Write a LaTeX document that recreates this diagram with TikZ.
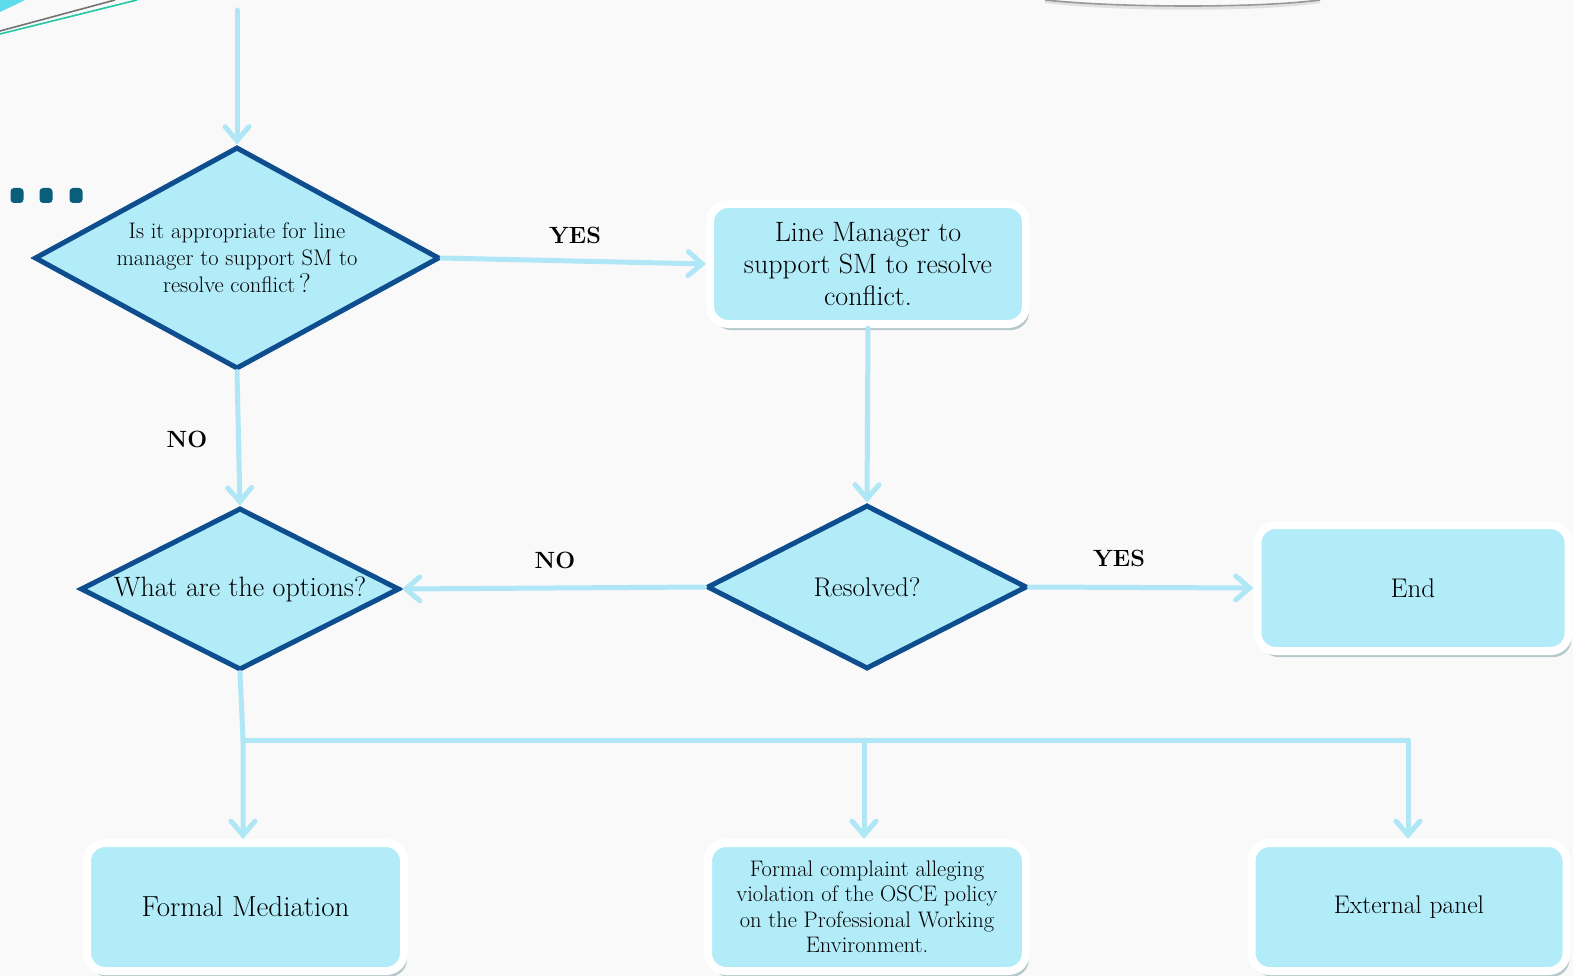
\documentclass[tikz,border=0pt]{standalone}
\usepackage{fontspec}
\usetikzlibrary{shapes.geometric,arrows.meta,shadows}
\definecolor{bgc}{HTML}{F9F9F9}
\definecolor{boxfill}{HTML}{B3ECF9}
\definecolor{cconn}{HTML}{B0E7F7}
\definecolor{dborder}{HTML}{0E4E8E}
\definecolor{dotc}{HTML}{0B5E7A}
\definecolor{shad}{HTML}{4F7F86}
\definecolor{decgreen}{HTML}{22C8A2}
\definecolor{deccyan}{HTML}{5FDCEC}
\begin{document}
\begin{tikzpicture}[x=1pt,y=-1pt,
  box/.style={rectangle, rounded corners=18pt, fill=boxfill, draw=white, line width=8pt,
    minimum width=316pt, minimum height=121pt, align=center, inner sep=0pt,
    drop shadow={shadow xshift=3pt, shadow yshift=-6pt, fill=shad, opacity=0.4}},
  dec/.style={diamond, fill=boxfill, draw=dborder, line width=5pt, inner sep=0pt, align=center},
  cline/.style={draw=cconn, line width=5pt, line cap=round},
  conn/.style={cline, -{Straight Barb[length=14pt,width=24pt,line cap=round]}},
  lab/.style={font=\fontsize{23.5}{28}\selectfont\bfseries, inner sep=0pt}
]
% background
\fill[bgc] (0,0) rectangle (1573,976);
\useasboundingbox (0,0) rectangle (1573,976);

% corner decorations
\fill[deccyan] (0,0) -- (25,0) .. controls (15,5) .. (0,12) -- cycle;
\draw[gray!90!black, line width=1.6pt] (0,31) -- (115,0);
\draw[decgreen, line width=1.6pt] (0,34) -- (137,0);
\draw[black!12, line width=4pt] (1045,1) .. controls (1120,10) and (1260,10) .. (1320,1);
\draw[black!40, line width=1.6pt] (1045,0) .. controls (1120,8) and (1260,8) .. (1320,0);

% dots
\foreach \x in {17,46,76}
  \fill[dotc, rounded corners=3.5pt] (\x-6.5,188) rectangle (\x+6.5,203);

% nodes
\node[dec, aspect=1.817, minimum width=405pt, minimum height=222pt, font=\fontsize{22.5}{27}\selectfont]
  (d1) at (237,258) {Is it appropriate for line\\manager to support SM to\\resolve conflict\,{\fontsize{27}{27}\selectfont ?}};
\node[box, minimum width=316pt, minimum height=120pt, font=\fontsize{28}{32}\selectfont]
  (lm) at (868,264) {Line Manager to\\support SM to resolve\\conflict.};
\node[dec, aspect=1.957, minimum width=319pt, minimum height=162pt, font=\fontsize{28}{30}\selectfont]
  (d2) at (240,589) {What are the options?};
\node[dec, aspect=1.94, minimum width=320pt, minimum height=164pt, font=\fontsize{27}{30}\selectfont]
  (d3) at (867,587) {Resolved?};
\node[box, minimum width=311pt, minimum height=126pt, font=\fontsize{27}{30}\selectfont]
  (end) at (1413,588) {End};
\node[box, minimum width=317pt, minimum height=128pt, font=\fontsize{29}{30}\selectfont]
  (fm) at (245.5,907) {Formal Mediation};
\node[box, minimum width=318pt, minimum height=128pt, font=\fontsize{22.5}{25.5}\selectfont]
  (fc) at (867,907) {Formal complaint alleging\\violation of the OSCE policy\\on the Professional Working\\Environment.};
\node[box, minimum width=315pt, minimum height=128pt, font=\fontsize{25.5}{30}\selectfont]
  (ep) at (1409,907) {External panel};

% connectors
\coordinate (top) at (237,10);
\coordinate (j1) at (243,740);
\coordinate (j2) at (864,740);
\coordinate (j3) at (1408,740);

\draw[conn] (top) -- (d1.north);
\draw[conn] (d1.east) -- (lm.west);
\draw[conn] (d1.south) -- (d2.north);
\draw[conn] (lm.south) -- (d3.north);
\draw[conn] (d3.west) -- (d2.east);
\draw[conn] (d3.east) -- (end.west);
\draw[conn] (d2.south) -- (j1) -- (j1 |- fm.north);
\draw[cline] (j1) -- (j3);
\draw[conn] (j2) -- (j2 |- fc.north);
\draw[conn] (j3) -- (j3 |- ep.north);

% labels
\node[lab] (yes1) at (575,235) {YES};
\node[lab] (no1) at (187,439) {NO};
\node[lab] (no2) at (555,560) {NO};
\node[lab] (yes2) at (1119,558) {YES};
\end{tikzpicture}
\end{document}
